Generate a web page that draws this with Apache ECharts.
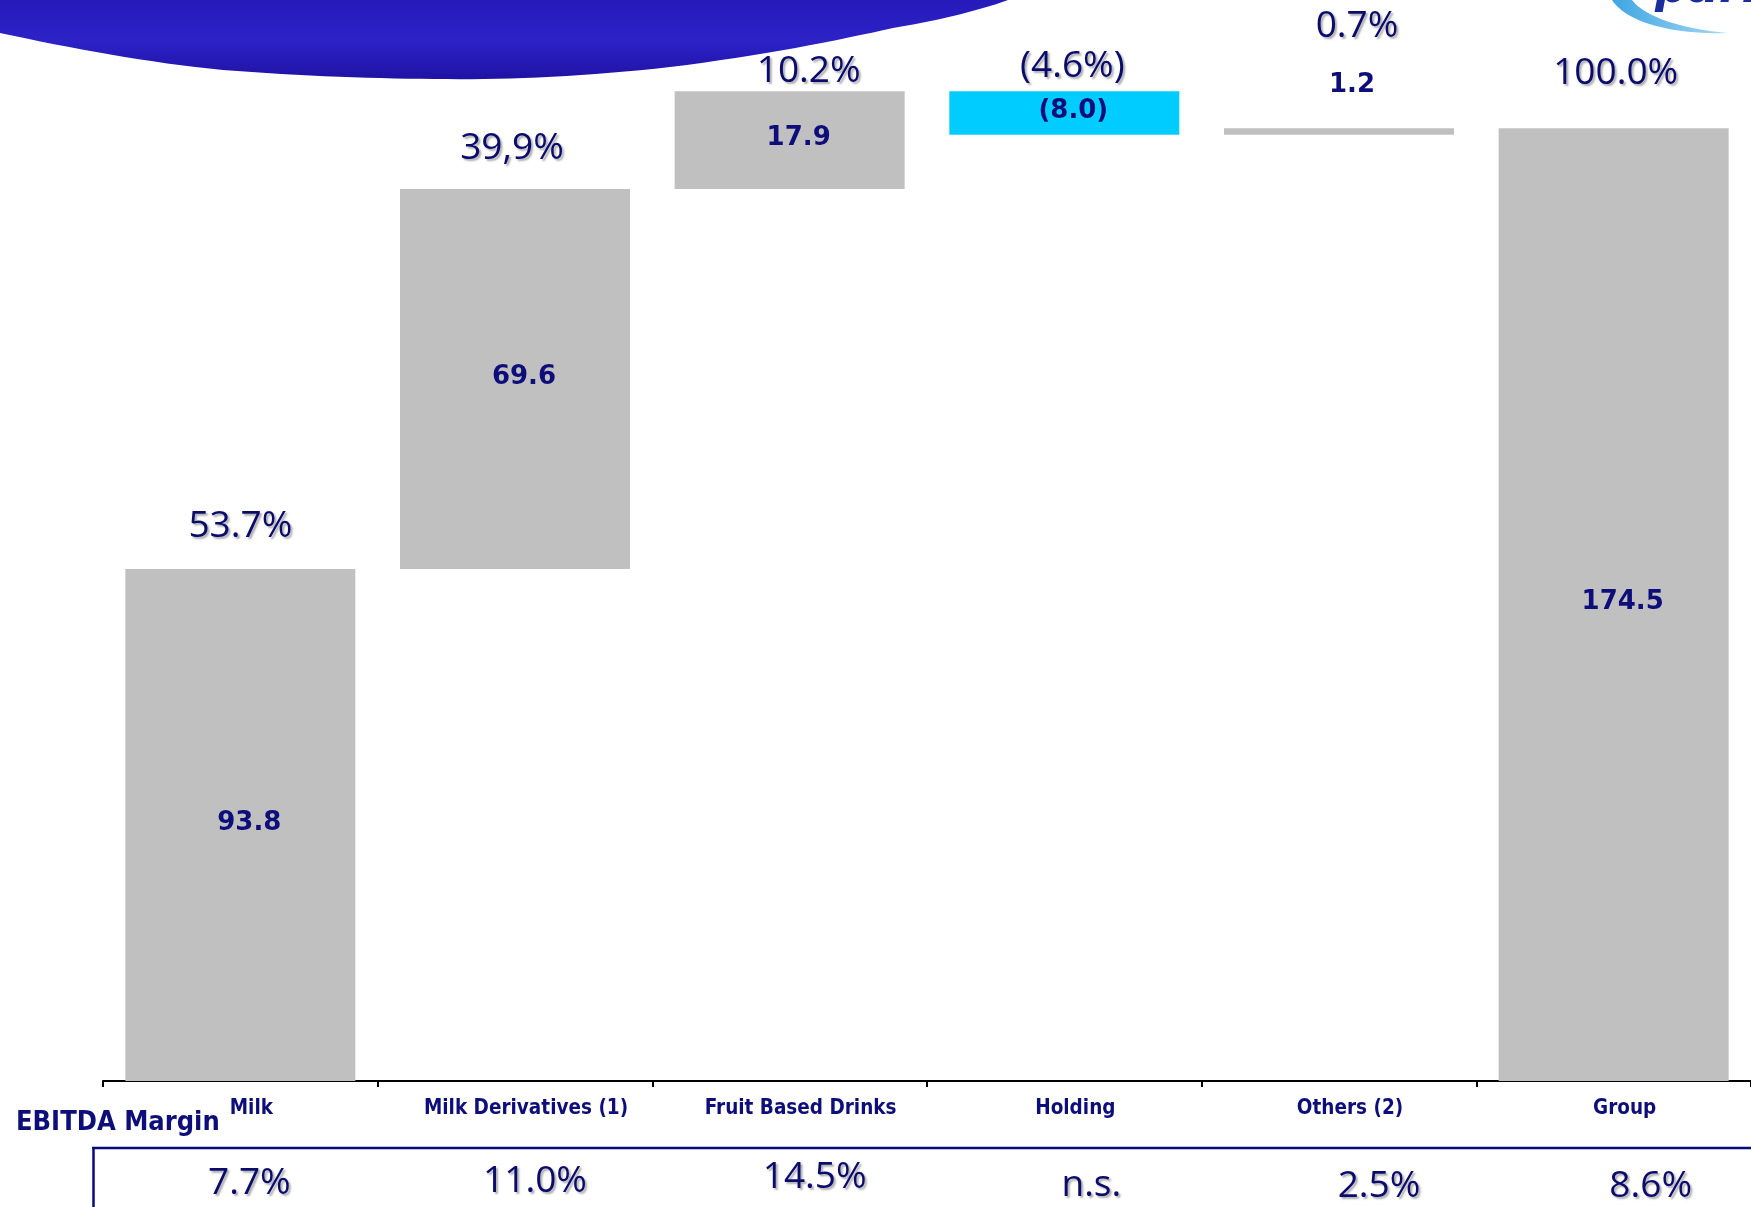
<!DOCTYPE html>
<html>
<head>
<meta charset="utf-8">
<script src="https://cdn.jsdelivr.net/npm/echarts@6/dist/echarts.min.js"></script>
<style>
  html, body { margin: 0; padding: 0; background: #ffffff; }
  #chart { width: 1751px; height: 1207px; }
</style>
</head>
<body>
<div id="chart"></div>
<script>
// EBITDA by business segment (EUR m), share of group EBITDA and EBITDA margin
const categories = ['Milk', 'Milk Derivatives (1)', 'Fruit Based Drinks', 'Holding', 'Others (2)', 'Group'];
const segmentEbitda = [93.8, 69.6, 17.9, -8.0, 1.2];
const groupEbitda = 174.5;
const shareOfGroup = ['53.7%', '39,9%', '10.2%', '(4.6%)', '0.7%', '100.0%'];
const ebitdaMargin = ['7.7%', '11.0%', '14.5%', 'n.s.', '2.5%', '8.6%'];

// placement of the text around the bars, in pixels
const shareDx = [0, -3, 19, 8, 18, 2];
const shareLift = [42, 40, 20, 25, 102, 55];
const marginDx = [9, 20, 25, 27, 40, 37];
const marginDy = [102, 100, 96, 104, 105, 105];

const NAVY = '#0b0b6e';
const LABEL_NAVY = '#0e0e7a';
const GREY = '#c0c0c0';
const CYAN = '#00ccff';
const PCT_FONT = '"Open Sans", "Noto Sans", sans-serif';
const BOLD_FONT = '"DejaVu Sans Condensed", "DejaVu Sans", sans-serif';

// waterfall: invisible base + visible step for each segment, group bar from zero
const stepBase = [], stepSpan = [], stepTop = [];
let running = 0;
segmentEbitda.forEach(v => {
  const next = running + v;
  stepBase.push(Math.min(running, next));
  stepSpan.push(Math.abs(v));
  stepTop.push(Math.max(running, next));
  running = next;
});
stepBase.push(0); stepSpan.push(groupEbitda); stepTop.push(groupEbitda);
const signedValues = segmentEbitda.concat([groupEbitda]);

const fmtValue = v => v < 0 ? '(' + Math.abs(v).toFixed(1) + ')' : v.toFixed(1);

const shadowText = {
  textShadowColor: 'rgba(0,0,0,0.32)',
  textShadowBlur: 2,
  textShadowOffsetX: 2,
  textShadowOffsetY: 2
};

// turn a start point + cubic segments into polygon points
function sampleCubics(start, segments, steps) {
  const pts = [start.slice()];
  let p0 = start;
  segments.forEach(seg => {
    const [c1, c2, p3] = seg;
    for (let k = 1; k <= steps; k++) {
      const t = k / steps, u = 1 - t;
      pts.push([
        u * u * u * p0[0] + 3 * u * u * t * c1[0] + 3 * u * t * t * c2[0] + t * t * t * p3[0],
        u * u * u * p0[1] + 3 * u * u * t * c1[1] + 3 * u * t * t * c2[1] + t * t * t * p3[1]
      ]);
    }
    p0 = p3;
  });
  return pts;
}

// header band outline: lower edge runs right to left
const bandEdge = sampleCubics([1008, 0], [
  [[975, 12], [930, 22], [893, 28]],
  [[840, 40], [760, 56], [670, 67]],
  [[590, 76], [510, 80], [447, 79]],
  [[380, 79], [300, 76], [223, 70]],
  [[150, 63], [70, 48], [0, 33]]
], 16);
const bandPoints = [[-5, -5], [1012, -5]].concat(bandEdge, [[-5, 33]]);

// logo swoosh: outer edge then inner edge back
const swooshOuter = sampleCubics([1612, 0], [[[1626, 22], [1672, 35], [1728, 33]]], 24);
const swooshInner = sampleCubics([1728, 33], [[[1682, 29], [1645, 17], [1632, 0]]], 24);
const swooshPoints = swooshOuter.concat(swooshInner.slice(1));

const chart = echarts.init(document.getElementById('chart'), null, { renderer: 'canvas' });

chart.setOption({
  animation: false,
  backgroundColor: '#ffffff',
  grid: { left: 103, top: 0, width: 1652, height: 1081, containLabel: false },
  xAxis: {
    type: 'category',
    data: categories,
    axisLine: { show: true, lineStyle: { color: '#000000', width: 2 } },
    axisTick: { show: true, length: 6, lineStyle: { color: '#000000', width: 2 } },
    axisLabel: {
      interval: 0,
      margin: 17,
      padding: [0, 0, 0, 22],
      color: LABEL_NAVY,
      fontFamily: BOLD_FONT,
      fontWeight: 'bold',
      fontSize: 20.5
    }
  },
  yAxis: {
    type: 'value',
    min: 0,
    max: 198,
    show: false,
    splitLine: { show: false }
  },
  series: [
    {
      name: 'base',
      type: 'bar',
      stack: 'wf',
      barWidth: 230,
      silent: true,
      itemStyle: { color: 'transparent' },
      data: stepBase
    },
    {
      name: 'EBITDA',
      type: 'bar',
      stack: 'wf',
      barWidth: 230,
      data: stepSpan.map((s, i) => ({
        value: s,
        itemStyle: { color: signedValues[i] < 0 ? CYAN : GREY },
        label: i === 4 ? { offset: [13, -46] } : undefined
      })),
      label: {
        show: true,
        position: 'inside',
        offset: [9, -2],
        formatter: p => fmtValue(signedValues[p.dataIndex]),
        color: LABEL_NAVY,
        fontFamily: '"DejaVu Sans", sans-serif',
        fontWeight: 'bold',
        fontSize: 26
      }
    },
    {
      name: 'share',
      type: 'custom',
      silent: true,
      z: 5,
      data: stepTop.map((t, i) => [i, t]),
      renderItem: (params, api) => {
        const i = params.dataIndex;
        const p = api.coord([api.value(0), api.value(1)]);
        return {
          type: 'text',
          x: p[0] + shareDx[i],
          y: p[1] - shareLift[i],
          style: Object.assign({
            text: shareOfGroup[i],
            fill: NAVY,
            font: 'normal 37px ' + PCT_FONT,
            align: 'center',
            verticalAlign: 'middle'
          }, shadowText)
        };
      }
    },
    {
      name: 'margin',
      type: 'custom',
      silent: true,
      data: categories.map((c, i) => [i, 0]),
      renderItem: (params, api) => {
        const i = params.dataIndex;
        const p = api.coord([api.value(0), api.value(1)]);
        return {
          type: 'text',
          x: p[0] + marginDx[i],
          y: p[1] + marginDy[i],
          style: Object.assign({
            text: ebitdaMargin[i],
            fill: NAVY,
            font: 'normal 37px ' + PCT_FONT,
            align: 'center',
            verticalAlign: 'middle'
          }, shadowText)
        };
      }
    }
  ],
  graphic: [
    {
      type: 'polygon',
      z: 0,
      shape: { points: bandPoints },
      style: {
        fill: {
          type: 'linear', x: 0, y: 0, x2: 0, y2: 1,
          colorStops: [
            { offset: 0, color: '#2519b8' },
            { offset: 0.55, color: '#2c22c6' },
            { offset: 1, color: '#1f12a4' }
          ]
        }
      }
    },
    {
      type: 'polygon',
      z: 10,
      shape: { points: swooshPoints },
      style: {
        fill: {
          type: 'linear', x: 0, y: 0, x2: 1, y2: 0,
          colorStops: [
            { offset: 0, color: '#3ea6e2' },
            { offset: 1, color: '#a8d8f2' }
          ]
        }
      }
    },
    {
      type: 'text',
      z: 10,
      x: 1655,
      y: 13,
      style: {
        text: 'parmalat',
        fill: '#1b2c9c',
        font: 'italic bold 46px "DejaVu Sans", sans-serif',
        align: 'left',
        verticalAlign: 'bottom'
      }
    },
    {
      type: 'text',
      x: 16,
      y: 1123,
      style: {
        text: 'EBITDA Margin',
        fill: LABEL_NAVY,
        font: 'bold 27px ' + BOLD_FONT,
        align: 'left',
        verticalAlign: 'middle'
      }
    },
    {
      type: 'line',
      shape: { x1: 92, y1: 1148, x2: 1751, y2: 1148 },
      style: { stroke: '#0a0a80', lineWidth: 2.5 }
    },
    {
      type: 'line',
      shape: { x1: 93.5, y1: 1147, x2: 93.5, y2: 1207 },
      style: { stroke: '#0a0a80', lineWidth: 2.5 }
    }
  ]
});
</script>
</body>
</html>
